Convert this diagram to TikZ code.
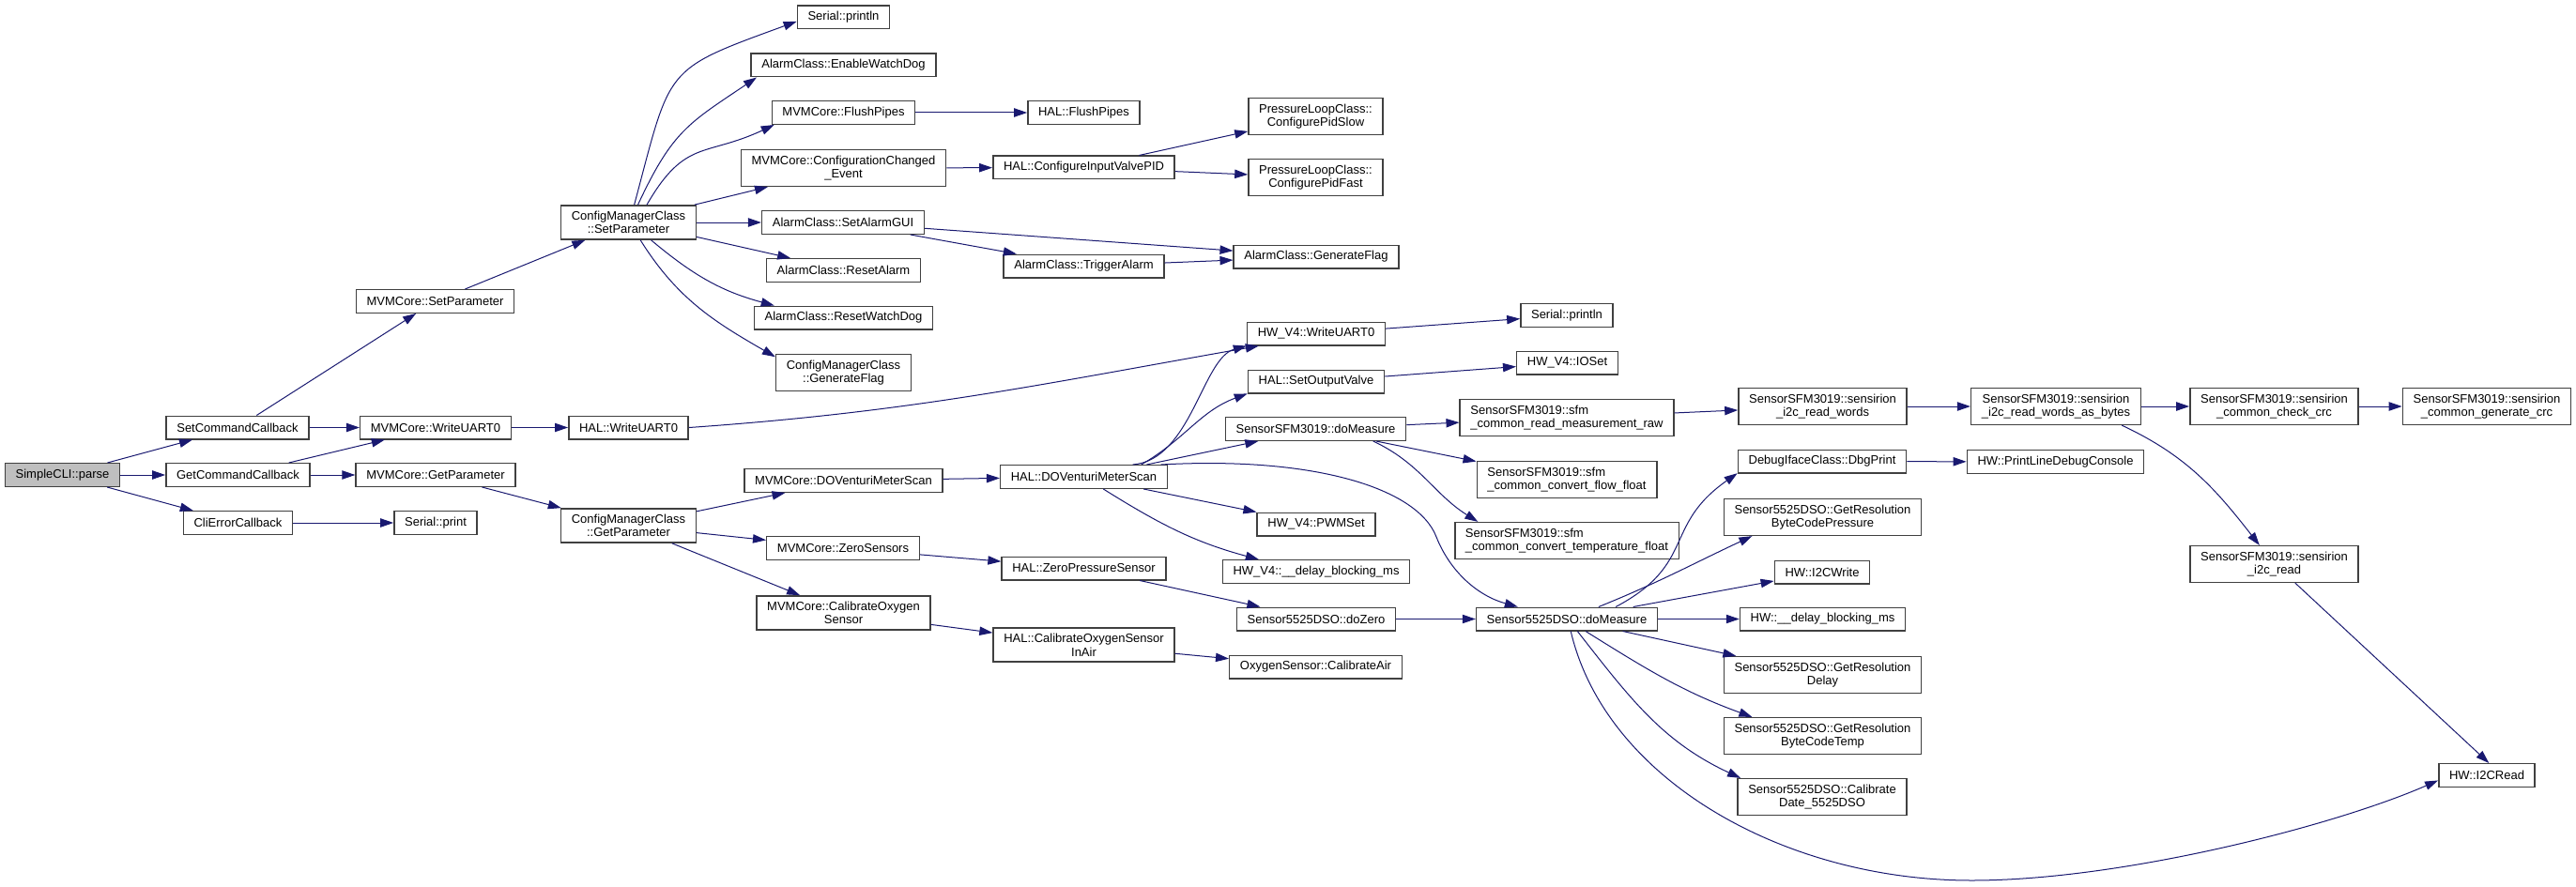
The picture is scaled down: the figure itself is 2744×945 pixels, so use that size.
\documentclass[tikz,border=0pt]{standalone}
\usepackage{fontspec}
\setmainfont{Liberation Sans}
\usetikzlibrary{arrows.meta}
\definecolor{callBlue}{HTML}{191970}
\definecolor{boxGrey}{HTML}{404040}
\definecolor{rootGrey}{HTML}{BFBFBF}
\begin{document}
\begin{tikzpicture}
[x=0.75pt,y=0.75pt,
  funcDecorate/.style={shape=rectangle,draw=boxGrey,line width=1.1pt,fill=white,
    inner xsep=8.4pt,inner ysep=4.5pt,minimum height=18.4pt,align=center,
    font=\fontsize{9.75}{11}\selectfont},%
  rootDecorate/.style={funcDecorate,fill=rootGrey},%
  leftDecorate/.style={funcDecorate,align=left},%
  callDecorate/.style={-{Triangle[length=10.5pt,width=7pt]},line width=0.75pt,draw=callBlue}]
\useasboundingbox (0,0) rectangle (2744,-945);
%% nodes or vertices
\node (parse) at (66.5,-506) [rootDecorate] {SimpleCLI::parse};
\node (setCb) at (253,-455.5) [funcDecorate] {SetCommandCallback};
\node (getCb) at (253.5,-506) [funcDecorate] {GetCommandCallback};
\node (errCb) at (253.5,-557) [funcDecorate] {CliErrorCallback};
\node (mvmSetPar) at (463.5,-321) [funcDecorate] {MVMCore::SetParameter};
\node (mvmWrite) at (464,-455.5) [funcDecorate] {MVMCore::WriteUART0};
\node (mvmGetPar) at (464,-506) [funcDecorate] {MVMCore::GetParameter};
\node (serPrint) at (464,-557) [funcDecorate] {Serial::print};
\node (cmcSet) at (669.5,-237) [funcDecorate] {ConfigManagerClass\\::SetParameter};
\node (halWrite) at (669.5,-455.5) [funcDecorate] {HAL::WriteUART0};
\node (cmcGet) at (669.5,-560) [funcDecorate] {ConfigManagerClass\\::GetParameter};
\node (serPrintln) at (898.5,-18.5) [funcDecorate] {Serial::println};
\node (enWD) at (898.5,-69.5) [funcDecorate] {AlarmClass::EnableWatchDog};
\node (mvmFlush) at (898.5,-120) [funcDecorate] {MVMCore::FlushPipes};
\node (mvmCfgEv) at (898.5,-179) [funcDecorate] {MVMCore::ConfigurationChanged\\\_Event};
\node (setGUI) at (898,-237) [funcDecorate] {AlarmClass::SetAlarmGUI};
\node (resAlarm) at (898.5,-288) [funcDecorate] {AlarmClass::ResetAlarm};
\node (resWD) at (898.5,-338.5) [funcDecorate] {AlarmClass::ResetWatchDog};
\node (cmcFlag) at (898.5,-397) [funcDecorate] {ConfigManagerClass\\::GenerateFlag};
\node (mvmDOV) at (898.5,-512) [funcDecorate] {MVMCore::DOVenturiMeterScan};
\node (mvmZero) at (898,-584) [funcDecorate] {MVMCore::ZeroSensors};
\node (mvmCalO2) at (898.5,-653) [funcDecorate] {MVMCore::CalibrateOxygen\\Sensor};
\node (halFlush) at (1154.5,-120) [funcDecorate] {HAL::FlushPipes};
\node (halCfgPID) at (1154.5,-178.5) [funcDecorate] {HAL::ConfigureInputValvePID};
\node (trigAlarm) at (1154.5,-283.5) [funcDecorate] {AlarmClass::TriggerAlarm};
\node (halDOV) at (1154.5,-508) [funcDecorate] {HAL::DOVenturiMeterScan};
\node (halZero) at (1154.5,-605.5) [funcDecorate] {HAL::ZeroPressureSensor};
\node (halCalO2) at (1154.5,-687) [funcDecorate] {HAL::CalibrateOxygenSensor\\InAir};
\node (pidSlow) at (1401.5,-124) [funcDecorate] {PressureLoopClass::\\ConfigurePidSlow};
\node (pidFast) at (1401.5,-189) [funcDecorate] {PressureLoopClass::\\ConfigurePidFast};
\node (genFlag) at (1402,-273.5) [funcDecorate] {AlarmClass::GenerateFlag};
\node (hwWrite) at (1402,-355.5) [funcDecorate] {HW\_V4::WriteUART0};
\node (setOutV) at (1402,-406.5) [funcDecorate] {HAL::SetOutputValve};
\node (sfmMeas) at (1401.5,-457) [funcDecorate] {SensorSFM3019::doMeasure};
\node (pwmSet) at (1402,-558.5) [funcDecorate] {HW\_V4::PWMSet};
\node (hwDelay) at (1402,-609) [funcDecorate] {HW\_V4::\_\_delay\_blocking\_ms};
\node (dsoZero) at (1402,-659.5) [funcDecorate] {Sensor5525DSO::doZero};
\node (o2Air) at (1401.5,-710.5) [funcDecorate] {OxygenSensor::CalibrateAir};
\node (serPrintlnB) at (1669,-336) [funcDecorate] {Serial::println};
\node (ioSet) at (1669.5,-386.5) [funcDecorate] {HW\_V4::IOSet};
\node (sfmRaw) at (1669,-445) [leftDecorate] {SensorSFM3019::sfm\\\_common\_read\_measurement\_raw};
\node (sfmFlow) at (1669,-511) [leftDecorate] {SensorSFM3019::sfm\\\_common\_convert\_flow\_float};
\node (sfmTemp) at (1669,-576) [leftDecorate] {SensorSFM3019::sfm\\\_common\_convert\_temperature\_float};
\node (dsoMeas) at (1669,-659.5) [funcDecorate] {Sensor5525DSO::doMeasure};
\node (readWords) at (1941.5,-433) [funcDecorate] {SensorSFM3019::sensirion\\\_i2c\_read\_words};
\node (dbgPrint) at (1941,-491.5) [funcDecorate] {DebugIfaceClass::DbgPrint};
\node (resPress) at (1941.5,-551) [funcDecorate] {Sensor5525DSO::GetResolution\\ByteCodePressure};
\node (i2cWrite) at (1941,-609.5) [funcDecorate] {HW::I2CWrite};
\node (hwDelayB) at (1941.5,-659.5) [funcDecorate] {HW::\_\_delay\_blocking\_ms};
\node (resDelay) at (1941.5,-719) [funcDecorate] {Sensor5525DSO::GetResolution\\Delay};
\node (resTemp) at (1941.5,-784) [funcDecorate] {Sensor5525DSO::GetResolution\\ByteCodeTemp};
\node (calDate) at (1941,-849) [funcDecorate] {Sensor5525DSO::Calibrate\\Date\_5525DSO};
\node (wordsBytes) at (2190,-433) [funcDecorate] {SensorSFM3019::sensirion\\\_i2c\_read\_words\_as\_bytes};
\node (printLine) at (2189.5,-492) [funcDecorate] {HW::PrintLineDebugConsole};
\node (checkCrc) at (2422.5,-433) [funcDecorate] {SensorSFM3019::sensirion\\\_common\_check\_crc};
\node (i2cRead) at (2422.5,-601) [funcDecorate] {SensorSFM3019::sensirion\\\_i2c\_read};
\node (genCrc) at (2649,-433) [funcDecorate] {SensorSFM3019::sensirion\\\_common\_generate\_crc};
\node (hwI2CRead) at (2649,-826) [funcDecorate] {HW::I2CRead};
%% edges or lines
\path (parse) edge[callDecorate] (setCb) edge[callDecorate] (getCb) edge[callDecorate] (errCb);
\path (setCb) edge[callDecorate] (mvmSetPar) edge[callDecorate] (mvmWrite);
\path (getCb) edge[callDecorate] (mvmWrite) edge[callDecorate] (mvmGetPar);
\path (errCb) edge[callDecorate] (serPrint);
\path (mvmSetPar) edge[callDecorate] (cmcSet);
\path (mvmWrite) edge[callDecorate] (halWrite);
\path (mvmGetPar) edge[callDecorate] (cmcGet);
\path (cmcSet.72) edge[callDecorate,out=75,in=200,looseness=1.5] (serPrintln.185)
  (cmcSet.62) edge[callDecorate,out=65,in=214,looseness=1.2] (enWD.188)
  (cmcSet.44) edge[callDecorate,out=60,in=205,looseness=1.3] (mvmFlush.190)
  (cmcSet.15) edge[callDecorate] (mvmCfgEv.194)
  (cmcSet) edge[callDecorate] (setGUI)
  (cmcSet.-12) edge[callDecorate] (resAlarm.167)
  (cmcSet.-38) edge[callDecorate,out=-40,in=165] (resWD.170)
  (cmcSet.-56) edge[callDecorate,out=-58,in=150] (cmcFlag.167);
\path (halWrite.east) edge[callDecorate,out=4,in=190] (hwWrite.192);
\path (cmcGet) edge[callDecorate] (mvmDOV) edge[callDecorate] (mvmZero) edge[callDecorate] (mvmCalO2);
\path (mvmFlush) edge[callDecorate] (halFlush);
\path (mvmCfgEv) edge[callDecorate] (halCfgPID);
\path (setGUI) edge[callDecorate] (genFlag) edge[callDecorate] (trigAlarm);
\path (halCfgPID) edge[callDecorate] (pidSlow) edge[callDecorate] (pidFast);
\path (trigAlarm) edge[callDecorate] (genFlag);
\path (mvmDOV) edge[callDecorate] (halDOV);
\path (mvmZero) edge[callDecorate] (halZero);
\path (mvmCalO2) edge[callDecorate] (halCalO2);
\draw[callDecorate] (halDOV.14) .. controls +(62,5) and +(-47,-13) .. (hwWrite.south west);
\path (halDOV.12) edge[callDecorate,out=30,in=200] (setOutV.190)
  (halDOV.11) edge[callDecorate] (sfmMeas.192)
  (halDOV) edge[callDecorate] (pwmSet)
  (halDOV.-32) edge[callDecorate,out=-32,in=165] (hwDelay.168);
\draw[callDecorate] (halDOV.9) .. controls (1400,-486) and (1510,-520) .. (1530,-572)
  .. controls (1545,-610) and (1575,-635) .. (dsoMeas.166);
\path (halZero) edge[callDecorate] (dsoZero);
\path (halCalO2) edge[callDecorate] (o2Air);
\path (hwWrite) edge[callDecorate] (serPrintlnB);
\path (setOutV) edge[callDecorate] (ioSet);
\path (sfmMeas) edge[callDecorate] (sfmRaw) edge[callDecorate] (sfmFlow)
  (sfmMeas.-12) edge[callDecorate,out=-25,in=148] (sfmTemp.168);
\path (dsoZero) edge[callDecorate] (dsoMeas);
\path (sfmRaw) edge[callDecorate] (readWords);
\path (readWords) edge[callDecorate] (wordsBytes);
\path (wordsBytes) edge[callDecorate] (checkCrc)
  (wordsBytes.-16) edge[callDecorate,out=-25,in=128] (i2cRead.128);
\path (checkCrc) edge[callDecorate] (genCrc);
\path (i2cRead.-42) edge[callDecorate] (hwI2CRead.80);
\path (dsoMeas.14) edge[callDecorate,out=28,in=215,looseness=1.3] (dbgPrint.188)
  (dsoMeas.21) edge[callDecorate,out=22,in=205] (resPress.195)
  (dsoMeas) edge[callDecorate] (i2cWrite)
  (dsoMeas) edge[callDecorate] (hwDelayB)
  (dsoMeas) edge[callDecorate] (resDelay)
  (dsoMeas.-33) edge[callDecorate,out=-32,in=160] (resTemp.165)
  (dsoMeas.-49) edge[callDecorate,out=-52,in=155] (calDate.167);
\draw[callDecorate] (dsoMeas.-72) .. controls (1710,-830) and (1900,-938) .. (2100,-938)
  .. controls (2260,-938) and (2486,-880) .. (hwI2CRead.186);
\path (dbgPrint) edge[callDecorate] (printLine);
\end{tikzpicture}
\end{document}
